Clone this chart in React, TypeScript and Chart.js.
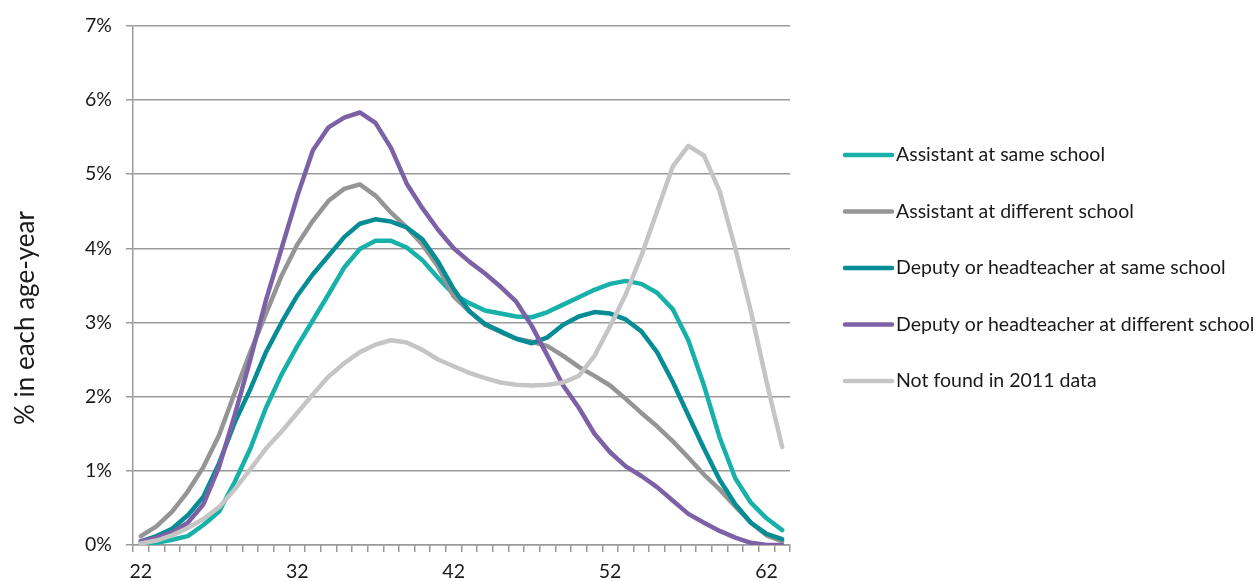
import React, { useEffect, useRef } from "react";
import { Chart, registerables } from "chart.js";

Chart.register(...registerables);

const ages: string[] = [];
for (let a = 22; a <= 63; a++) ages.push(String(a));

const labeledAges = ["22", "32", "42", "52", "62"];
const yTickValues = [0, 1, 2, 3, 4, 5, 6, 7];
const yTitle = "% in each age-year";

const seriesNames = [
  "Assistant at same school",
  "Assistant at different school",
  "Deputy or headteacher at same school",
  "Deputy or headteacher at different school",
  "Not found in 2011 data",
];

const assistantSame = [
  0.02, 0.03, 0.07, 0.12, 0.27, 0.45, 0.85, 1.3, 1.85, 2.3, 2.68, 3.03, 3.38, 3.74, 3.99, 4.1, 4.1, 4.01, 3.84, 3.6,
  3.38, 3.26, 3.16, 3.12, 3.08, 3.07, 3.14, 3.24, 3.34, 3.44, 3.52, 3.56, 3.52, 3.4, 3.18, 2.76, 2.15, 1.45, 0.9, 0.57,
  0.36, 0.2,
];
const assistantDiff = [
  0.12, 0.25, 0.45, 0.72, 1.05, 1.48, 2.05, 2.6, 3.12, 3.63, 4.05, 4.37, 4.64, 4.8, 4.86, 4.71, 4.48, 4.28, 4.05, 3.75,
  3.35, 3.15, 2.97, 2.87, 2.78, 2.74, 2.68, 2.55, 2.4, 2.28, 2.15, 1.97, 1.78, 1.6, 1.4, 1.18, 0.95, 0.75, 0.52, 0.3,
  0.13, 0.05,
];
const deputySame = [
  0.05, 0.12, 0.22, 0.4, 0.65, 1.1, 1.65, 2.1, 2.6, 3.0, 3.36, 3.65, 3.9, 4.15, 4.33, 4.39, 4.36, 4.28, 4.12, 3.82,
  3.45, 3.15, 2.98, 2.88, 2.78, 2.72, 2.8, 2.97, 3.08, 3.14, 3.12, 3.04, 2.88, 2.6, 2.2, 1.75, 1.3, 0.88, 0.55, 0.3,
  0.15, 0.08,
];
const deputyDiff = [
  0.05, 0.1, 0.17, 0.3, 0.55, 1.05, 1.75, 2.5, 3.3, 4.0, 4.7, 5.32, 5.63, 5.76, 5.83, 5.69, 5.35, 4.87, 4.54, 4.25,
  4.0, 3.82, 3.66, 3.48, 3.28, 2.95, 2.55, 2.15, 1.85, 1.5, 1.25, 1.06, 0.93, 0.78, 0.6, 0.42, 0.3, 0.19, 0.1, 0.03,
  0.0, 0.0,
];
const notFound = [
  0.02, 0.06, 0.13, 0.23, 0.35, 0.51, 0.75, 1.02, 1.3, 1.53, 1.78, 2.03, 2.27, 2.45, 2.6, 2.7, 2.76, 2.73, 2.63, 2.5,
  2.41, 2.32, 2.25, 2.19, 2.16, 2.15, 2.16, 2.19, 2.28, 2.55, 2.95, 3.38, 3.9, 4.5, 5.1, 5.38, 5.25, 4.77, 4.0, 3.15,
  2.2, 1.32,
];

const seriesValues = [assistantSame, assistantDiff, deputySame, deputyDiff, notFound];
const seriesColors = ["#17b1aa", "#959595", "#058c95", "#7c61a6", "#c5c5c5"];

const FONT = "Lato, 'Open Sans', sans-serif";
const TEXT = "#1a1a1a";
const GRID = "#9a9a9a";

const legendPlugin = {
  id: "sideLegend",
  afterDraw(chart: any) {
    const { ctx, chartArea } = chart;
    const x0 = chartArea.right + 55;
    const lineLen = 47;
    const startY = 155;
    const step = 56.5;
    ctx.save();
    chart.data.datasets.forEach((ds: any, i: number) => {
      const y = startY + i * step;
      ctx.strokeStyle = ds.borderColor;
      ctx.lineWidth = 4.5;
      ctx.lineCap = "round";
      ctx.beginPath();
      ctx.moveTo(x0, y);
      ctx.lineTo(x0 + lineLen, y);
      ctx.stroke();
      ctx.fillStyle = TEXT;
      ctx.font = `19.5px ${FONT}`;
      ctx.textAlign = "left";
      ctx.textBaseline = "middle";
      ctx.fillText(ds.label, x0 + lineLen + 4, y);
    });
    // y-axis title
    ctx.translate(26, 318);
    ctx.rotate(-Math.PI / 2);
    ctx.fillStyle = TEXT;
    ctx.font = `26px ${FONT}`;
    ctx.textAlign = "center";
    ctx.textBaseline = "middle";
    ctx.fillText(yTitle, 0, 0);
    ctx.restore();
  },
};

export default function App() {
  const ref = useRef<HTMLCanvasElement | null>(null);
  useEffect(() => {
    if (!ref.current) return;
    const chart = new Chart(ref.current, {
      type: "line",
      data: {
        labels: ages,
        datasets: seriesNames.map((name, i) => ({
          label: name,
          data: seriesValues[i],
          borderColor: seriesColors[i],
          backgroundColor: seriesColors[i],
          borderWidth: 4.5,
          pointRadius: 0,
          tension: 0,
          borderJoinStyle: "round" as const,
          borderCapStyle: "round" as const,
          order: 5 - i,
        })),
      },
      options: {
        animation: false,
        responsive: true,
        maintainAspectRatio: false,
        layout: { padding: { left: 16, right: 468, top: 25, bottom: 0 } },
        plugins: { legend: { display: false }, tooltip: { enabled: false } },
        scales: {
          x: {
            type: "category",
            offset: true,
            grid: {
              offset: true,
              drawOnChartArea: false,
              drawTicks: true,
              tickLength: 7,
              color: GRID,
              lineWidth: 1.5,
            },
            border: { display: true, color: GRID, width: 1.5 },
            ticks: {
              autoSkip: false,
              maxRotation: 0,
              padding: 8,
              color: TEXT,
              font: { family: FONT, size: 19.5 },
              callback: function (this: any, val: any) {
                const lab = this.getLabelForValue(val);
                return labeledAges.includes(lab) ? lab : "";
              },
            },
            afterFit(scale: any) {
              scale.height = 36;
            },
          },
          y: {
            min: 0,
            max: 7,
            afterBuildTicks(scale: any) {
              scale.ticks = yTickValues.map((v) => ({ value: v }));
            },
            grid: { color: GRID, lineWidth: 1.5, drawTicks: true, tickLength: 7 },
            border: { display: true, color: GRID, width: 1.5 },
            ticks: {
              padding: 14,
              color: TEXT,
              font: { family: FONT, size: 19.5 },
              callback: (v: any) => `${v}%`,
            },
            afterFit(scale: any) {
              scale.width = 117;
            },
          },
        },
      },
      plugins: [legendPlugin],
    });
    return () => chart.destroy();
  }, []);
  return (
    <div style={{ position: "absolute", left: 0, top: 0, width: 1258, height: 581 }}>
      <canvas ref={ref} />
    </div>
  );
}
